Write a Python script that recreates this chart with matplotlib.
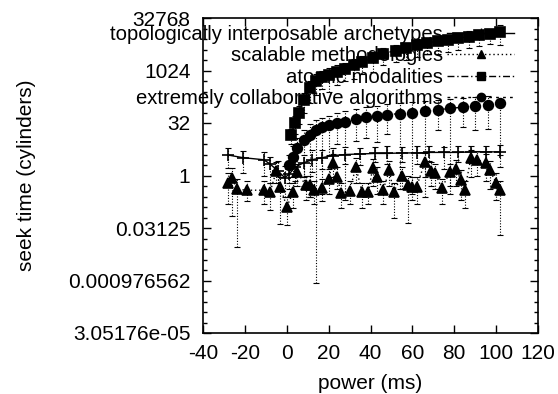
import matplotlib
matplotlib.use("Agg")
import matplotlib.pyplot as plt
from matplotlib.lines import Line2D
from matplotlib.ticker import FixedLocator, FixedFormatter, NullFormatter

plt.rcParams["font.family"] = ["Liberation Sans", "DejaVu Sans"]
plt.rcParams["axes.unicode_minus"] = False

# ── series: topologically interposable archetypes (flat, solid) ──────────────
topo_x = [-28, -21, -11, -8, -4, -1, 1, 4, 8, 12, 17, 22, 28, 35, 42, 48,
          55, 62, 68, 75, 82, 88, 95, 102]
topo_y = [3.86, 3.25, 2.83, 2.14, 1.32, 0.87, 1.07, 1.74, 2.3, 2.83, 3.25,
          3.73, 4.0, 4.14, 4.29, 4.29, 4.44, 4.44, 4.59, 4.59, 4.59, 4.76,
          4.76, 4.76]
topo_lo = [1.6, 1.2, 1.0, 0.6, 0.35, 0.25, 0.4, 0.7, 0.9, 1.3, 1.5, 1.8, 2.2,
           2.0, 2.4, 2.1, 2.5, 2.2, 2.6, 1.5, 2.4, 2.3, 1.9, 1.8]
topo_hi = [6.2, 5.0, 4.6, 3.5, 2.6, 1.9, 2.2, 3.2, 4.0, 5.5, 5.3, 6.0, 6.4,
           6.0, 6.5, 6.8, 6.6, 6.9, 7.0, 6.7, 7.2, 7.0, 6.9, 7.5]

# ── series: scalable methodologies (low scatter, dotted) ─────────────────────
scal_x = [-28, -26, -24, -19, -11, -8, -5, -3, 0, 3, 5, 9, 11, 13, 17, 20,
          22, 24, 26, 30, 33, 36, 39, 41, 43, 46, 49, 51, 55, 58, 60, 62, 66,
          69, 71, 74, 78, 81, 83, 85, 88, 91, 95, 97, 100, 102]
scal_y = [0.616, 0.871, 0.406, 0.379, 0.379, 0.330, 1.32, 0.467, 0.125, 0.330,
          1.23, 0.536, 0.536, 0.379, 0.435, 0.812, 2.30, 0.933, 0.308, 0.354,
          1.74, 0.330, 0.330, 1.62, 0.933, 0.379, 1.41, 0.330, 1.0, 0.536,
          0.467, 0.467, 2.46, 1.32, 1.15, 0.435, 1.23, 1.52, 0.758, 0.379,
          3.25, 2.83, 2.30, 1.41, 0.616, 0.379]
scal_lo = [0.15, 0.07, 0.009, 0.18, 0.15, 0.1, 0.6, 0.04, 0.038, 0.12, 0.5,
           0.2, 0.25, 0.15, 0.18, 0.3, 0.9, 0.4, 0.12, 0.15, 0.6, 0.12, 0.15,
           0.5, 0.3, 0.15, 0.5, 0.06, 0.4, 0.044, 0.2, 0.15, 0.9, 0.5, 0.4,
           0.15, 0.3, 0.5, 0.2, 0.12, 0.9, 1.0, 0.7, 0.4, 0.2, 0.02]
scal_hi = [1.2, 1.6, 0.8, 0.7, 0.7, 0.6, 2.4, 0.9, 0.25, 0.6, 2.2, 1.0, 1.0,
           0.7, 0.8, 1.5, 4.2, 1.7, 0.6, 0.7, 3.2, 0.6, 0.6, 3.0, 1.7, 0.7,
           2.6, 0.6, 1.8, 1.0, 0.9, 0.9, 4.5, 2.4, 2.1, 0.8, 2.2, 2.8, 1.4,
           0.7, 5.5, 5.0, 4.2, 2.6, 1.2, 0.7]

# ── series: atomic modalities (top rising, dash-dot) ─────────────────────────
atom_x = [2, 4, 6, 8, 11, 14, 17, 20, 24, 28, 32, 36, 41, 46, 52, 57, 62, 67,
          72, 77, 82, 87, 92, 97, 102]
atom_y = [14.9, 32, 64, 147, 315, 512, 676, 776, 955, 1097, 1448, 1783, 2353,
          3104, 3822, 4390, 5405, 6208, 7131, 7643, 8780, 9410, 10440, 11190,
          13300]
atom_lo = [8, 16, 30, 60, 120, 200, 300, 250, 400, 500, 600, 800, 900, 1500,
           1800, 2000, 2500, 3000, 3000, 3500, 4000, 4500, 5000, 6000, 5500]
atom_hi = [22, 50, 100, 230, 500, 800, 1000, 1200, 1500, 1700, 2200, 2600,
           3400, 4500, 5500, 6500, 8000, 9000, 10000, 11000, 12500, 13500,
           15000, 16000, 20000]

# ── series: extremely collaborative algorithms (middle rising, dotted) ───────
coll_x = [1, 3, 5, 8, 11, 14, 17, 20, 24, 28, 33, 38, 43, 48, 54, 60, 66, 72,
          78, 84, 90, 96, 102]
coll_y = [2, 3.5, 6.1, 10.6, 14.9, 19.7, 24.3, 27.9, 32, 34.3, 42.2, 48.5, 52,
          55.7, 59.7, 64, 68.6, 76.1, 84.4, 90.5, 97, 107.6, 119.4]
coll_lo = [0.6, 0.9, 1.2, 0.5, 0.25, 0.00085, 0.3, 4.0, 8.0, 0.2, 10.0, 12.0,
           9.0, 15.0, 0.4, 0.3, 0.25, 20.0, 0.5, 25.0, 20.0, 22.0, 4.0]
coll_hi = [4, 7, 12, 20, 30, 40, 45, 50, 60, 70, 80, 90, 100, 110, 120, 130,
           140, 150, 160, 170, 180, 190, 160]

y_ticks = [2.0 ** -15, 2.0 ** -10, 2.0 ** -5, 1, 32, 1024, 32768]
y_labels = ["3.05176e-05", "0.000976562", "0.03125", "1", "32", "1024", "32768"]
y_minor = [2.0 ** k for k in range(-15, 16)]
x_ticks = [-40, -20, 0, 20, 40, 60, 80, 100, 120]

SERIES = [
    ("topologically interposable archetypes", topo_x, topo_y, topo_lo, topo_hi,
     "-", "+", 8),
    ("scalable methodologies", scal_x, scal_y, scal_lo, scal_hi,
     (0, (1, 2)), "^", 7),
    ("atomic modalities", atom_x, atom_y, atom_lo, atom_hi,
     (0, (5, 2, 1, 2)), "s", 6.5),
    ("extremely collaborative algorithms", coll_x, coll_y, coll_lo, coll_hi,
     (0, (2, 3)), "o", 7),
]

fig = plt.figure(figsize=(5.58, 3.94), dpi=100)
ax = fig.add_axes([203 / 558, 1 - 333 / 394, 335 / 558, 315 / 394])

handles = []
for label, xs, ys, lo, hi, ls, mk, ms in SERIES:
    yerr = [[y - l for y, l in zip(ys, lo)], [h - y for y, h in zip(ys, hi)]]
    _, caps, bars = ax.errorbar(xs, ys, yerr=yerr, fmt="none", ecolor="black",
                                elinewidth=0.8, capsize=2, capthick=0.8)
    for b in bars:
        b.set_linestyle((0, (1, 1.5)))
    ax.plot(xs, ys, color="black", linestyle=ls, linewidth=1.0,
            marker=mk, markersize=ms, markeredgewidth=1.2)
    handles.append(Line2D([], [], color="black", linestyle=ls, linewidth=1.0,
                          marker=mk, markersize=ms - 1, label=label))

ax.set_yscale("log", base=2)
ax.set_xlim(-40, 120)
ax.set_ylim(2.0 ** -15, 2.0 ** 15)
ax.yaxis.set_major_locator(FixedLocator(y_ticks))
ax.yaxis.set_major_formatter(FixedFormatter(y_labels))
ax.yaxis.set_minor_locator(FixedLocator(y_minor))
ax.yaxis.set_minor_formatter(NullFormatter())
ax.set_xticks(x_ticks)
ax.tick_params(which="both", direction="in", top=True, right=True,
               labelsize=15, width=1.0)
ax.tick_params(which="major", length=6)
ax.tick_params(axis="y", which="major", pad=9)
ax.tick_params(axis="x", which="major", pad=8)
ax.tick_params(which="minor", length=3)
for s in ax.spines.values():
    s.set_linewidth(1.2)

ax.set_xlabel("power (ms)", fontsize=15, labelpad=8)
ax.set_ylabel("seek time (cylinders)", fontsize=15, labelpad=23)

ax.legend(handles=handles, loc="upper right", frameon=False, markerfirst=False,
          fontsize=14.6, handlelength=3.3, handletextpad=0.2, labelspacing=0.12,
          borderpad=0, borderaxespad=0,
          bbox_to_anchor=(514 / 558, 1 - 25 / 394),
          bbox_transform=fig.transFigure)

fig.savefig("out.png", dpi=100)
